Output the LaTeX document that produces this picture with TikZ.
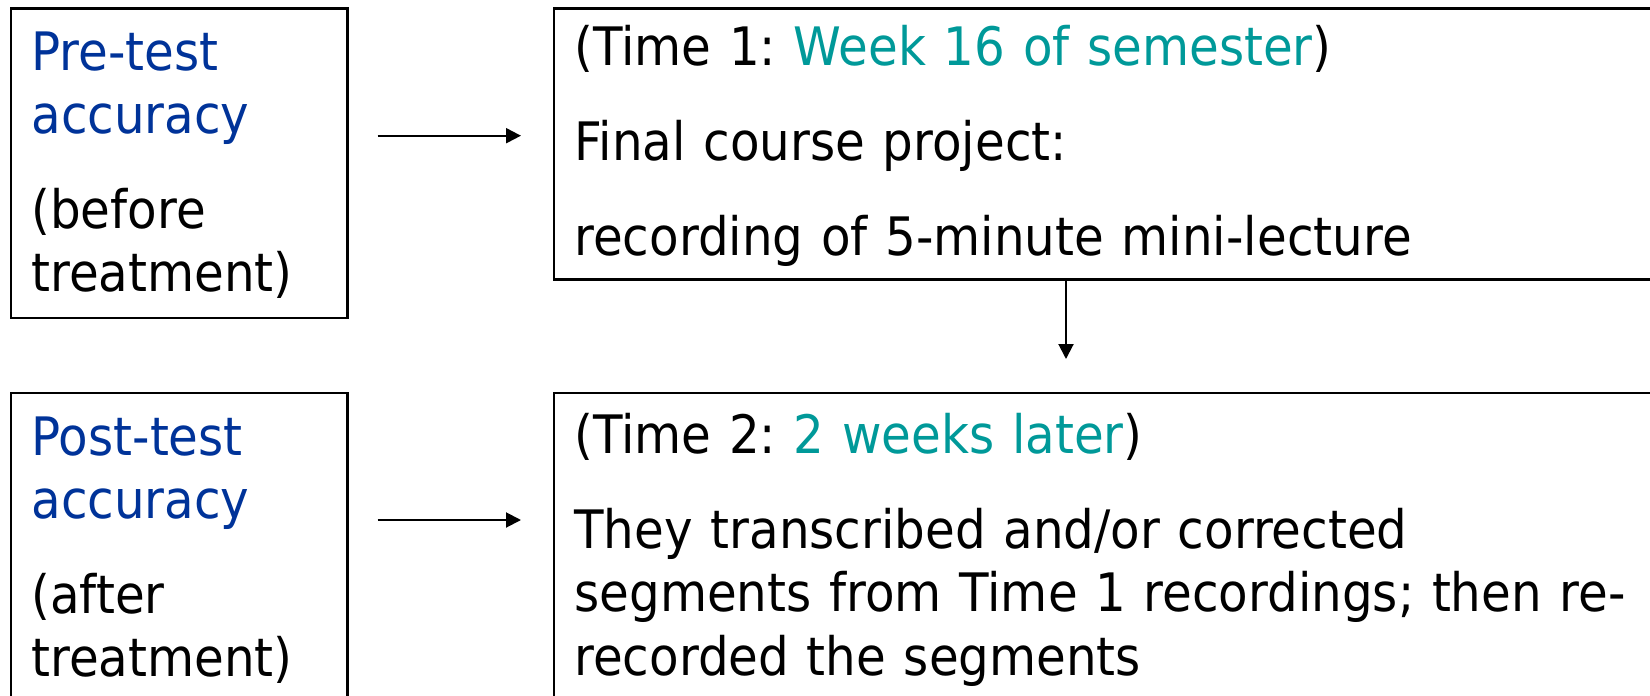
\documentclass[tikz,border=0pt]{standalone}
\usepackage{fontspec}
\setmainfont{DejaVu Sans}[FakeStretch=0.912]
\usetikzlibrary{arrows.meta}
\definecolor{headblue}{HTML}{003399}
\definecolor{timeteal}{HTML}{009999}
\begin{document}
\frenchspacing
\begin{tikzpicture}[x=0.5pt,y=-0.5pt,
  box/.style={draw, line width=1.25pt, rectangle, inner sep=0pt, anchor=north west},
  txt/.style={anchor=base west, inner sep=0pt, align=left,
    font=\fontsize{26.5}{31.65}\selectfont},
  arr/.style={-{Triangle[length=7.5pt,width=7.5pt]}, line width=1pt}]
\useasboundingbox (0,0) rectangle (1650,696);
\clip (0,0) rectangle (1650,696);

% frames (right and lower ones run off the page)
\node[box, minimum width=168.4pt, minimum height=154.7pt] (pre)  at (9.6,7.3) {};
\node[box, minimum width=583.5pt, minimum height=135.5pt] (t1)   at (552.7,7.3) {};
\node[box, minimum width=168.4pt, minimum height=184pt]   (post) at (9.6,391.7) {};
\node[box, minimum width=583.5pt, minimum height=184pt]   (t2)   at (552.7,391.7) {};

% texts
\node[txt, text width=160pt] (pretxt) at (31,70)
  {\textcolor{headblue}{Pre-test\\accuracy}\\[16pt](before\\treatment)};
\node[txt, text width=160pt] (posttxt) at (31,455)
  {\textcolor{headblue}{Post-test\\accuracy}\\[16pt](after\\treatment)};
\node[txt, text width=540pt] (t1txt) at (574,65)
  {(Time 1: \textcolor{timeteal}{Week 16 of semester})\\[16pt]Final course project:\\[16pt]recording of 5-minute mini-lecture};
\node[txt, text width=540pt] (t2txt) at (574,453.3)
  {(Time 2: \textcolor{timeteal}{2 weeks later})\\[16pt]They transcribed and/or corrected\\segments from Time 1 recordings; then re-\\recorded the segments};

% connectors
\coordinate (a1s) at (377.5,135.7);
\coordinate (a1e) at (521,135.7);
\coordinate (a2s) at (377.5,520);
\coordinate (a2e) at (521,520);
\coordinate (vtip) at (1066,359);
\draw[arr] (a1s) -- (a1e);
\draw[arr] (a2s) -- (a2e);
\draw[arr] (t1.south -| vtip) -- (vtip);
\end{tikzpicture}
\end{document}
